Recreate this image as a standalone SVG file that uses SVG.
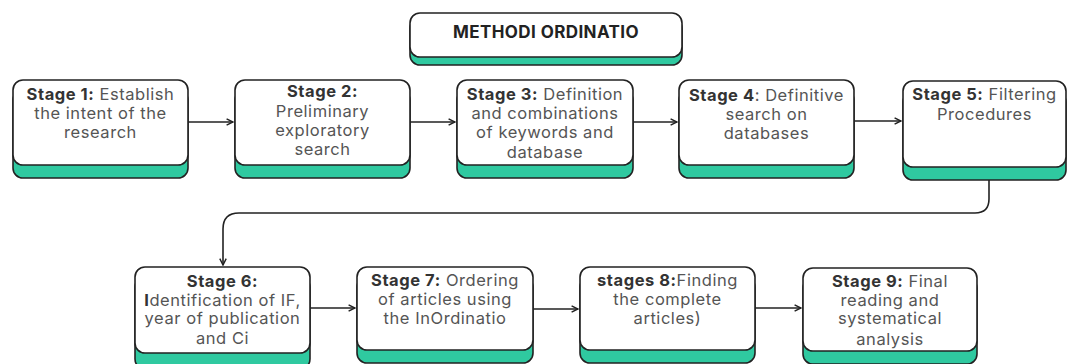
<svg xmlns="http://www.w3.org/2000/svg" width="1068" height="364" viewBox="0 0 1068 364">
<defs>
<style>
.sh{fill:#2fc9a0;stroke:#222;stroke-width:1.6}
.bx{fill:#fff;stroke:#222;stroke-width:1.6}
.t{font-family:Inter,"Liberation Sans",sans-serif;font-size:16.5px;letter-spacing:0.55px;fill:#555;text-anchor:middle}
.b{font-weight:bold;fill:#333}
.ttl{font-family:Inter,"Liberation Sans",sans-serif;font-size:17px;letter-spacing:0.4px;font-weight:bold;fill:#222;text-anchor:middle}
.c{fill:none;stroke:#222;stroke-width:1.6}
</style>
<marker id="ah" viewBox="0 0 10 10" refX="9" refY="5" markerWidth="8" markerHeight="8" markerUnits="userSpaceOnUse" orient="auto">
<path d="M1,1 L9,5 L1,9" fill="none" stroke="#222" stroke-width="1.8"/>
</marker>
</defs>
<rect width="1068" height="364" fill="#fff"/>
<g id="title">
<rect class="sh" x="410" y="18" width="272" height="47" rx="10"/>
<rect class="bx" x="410" y="13" width="272" height="44" rx="10"/>
<text class="ttl" x="546" y="38">METHODI ORDINATIO</text>
</g>
<g id="connectors">
<path class="c" d="M188,122 H233" marker-end="url(#ah)"/>
<path class="c" d="M410,122 H455" marker-end="url(#ah)"/>
<path class="c" d="M633,122 H677" marker-end="url(#ah)"/>
<path class="c" d="M854,121 H901" marker-end="url(#ah)"/>
<path class="c" d="M989,180 V199 Q989,213 975,213 H239 Q223,213 223,229 V265" marker-end="url(#ah)"/>
<path class="c" d="M310,308 H355" marker-end="url(#ah)"/>
<path class="c" d="M533,309 H578" marker-end="url(#ah)"/>
<path class="c" d="M755,308 H801" marker-end="url(#ah)"/>
</g>
<g id="stage1">
<rect class="sh" x="13" y="90" width="175" height="88" rx="10"/>
<rect class="bx" x="13" y="80" width="175" height="85" rx="10"/>
<text class="t" x="100.5" y="100"><tspan class="b">Stage 1:</tspan> Establish<tspan x="100.5" dy="19">the intent of the</tspan><tspan x="100.5" dy="19">research</tspan></text>
</g>
<g id="stage2">
<rect class="sh" x="235" y="90" width="175" height="88" rx="10"/>
<rect class="bx" x="235" y="80" width="175" height="85" rx="10"/>
<text class="t" x="322.5" y="97"><tspan class="b">Stage 2:</tspan><tspan x="322.5" dy="19.5">Preliminary</tspan><tspan x="322.5" dy="19">exploratory</tspan><tspan x="322.5" dy="19.5">search</tspan></text>
</g>
<g id="stage3">
<rect class="sh" x="457" y="90" width="176" height="88" rx="10"/>
<rect class="bx" x="457" y="80" width="176" height="85" rx="10"/>
<text class="t" x="545" y="100"><tspan class="b">Stage 3:</tspan> Definition<tspan x="545" dy="19">and combinations</tspan><tspan x="545" dy="19">of keywords and</tspan><tspan x="545" dy="19.5">database</tspan></text>
</g>
<g id="stage4">
<rect class="sh" x="679" y="90" width="175" height="88" rx="10"/>
<rect class="bx" x="679" y="80" width="175" height="85" rx="10"/>
<text class="t" x="766.5" y="101"><tspan class="b">Stage 4</tspan>: Definitive<tspan x="766.5" dy="19">search on</tspan><tspan x="766.5" dy="18.5">databases</tspan></text>
</g>
<g id="stage5">
<rect class="sh" x="903" y="92" width="163" height="88" rx="10"/>
<rect class="bx" x="903" y="81" width="163" height="86" rx="10"/>
<text class="t" x="984.5" y="100"><tspan class="b">Stage 5:</tspan> Filtering<tspan x="984.5" dy="20">Procedures</tspan></text>
</g>
<g id="stage6">
<rect class="sh" x="135" y="277" width="175" height="92" rx="10"/>
<rect class="bx" x="135" y="267" width="175" height="86" rx="10"/>
<text class="t" x="222.5" y="287"><tspan class="b">Stage 6:</tspan><tspan x="222.5" dy="18.5"><tspan class="b">I</tspan>dentification of IF,</tspan><tspan x="222.5" dy="18.5">year of publication</tspan><tspan x="222.5" dy="20">and Ci</tspan></text>
</g>
<g id="stage7">
<rect class="sh" x="357" y="277" width="176" height="86" rx="10"/>
<rect class="bx" x="357" y="267" width="176" height="83" rx="10"/>
<text class="t" x="445" y="286"><tspan class="b">Stage 7:</tspan> Ordering<tspan x="445" dy="19">of articles using</tspan><tspan x="445" dy="18.5">the InOrdinatio</tspan></text>
</g>
<g id="stage8">
<rect class="sh" x="580" y="277" width="175" height="86" rx="10"/>
<rect class="bx" x="580" y="267" width="175" height="83" rx="10"/>
<text class="t" x="667.5" y="286"><tspan class="b">stages 8:</tspan>Finding<tspan x="667.5" dy="19">the complete</tspan><tspan x="667.5" dy="19">articles)</tspan></text>
</g>
<g id="stage9">
<rect class="sh" x="803" y="278" width="174" height="86" rx="10"/>
<rect class="bx" x="803" y="268" width="174" height="83" rx="10"/>
<text class="t" x="890" y="287"><tspan class="b">Stage 9:</tspan> Final<tspan x="890" dy="18.5">reading and</tspan><tspan x="890" dy="18.5">systematical</tspan><tspan x="890" dy="20.5">analysis</tspan></text>
</g>
</svg>
